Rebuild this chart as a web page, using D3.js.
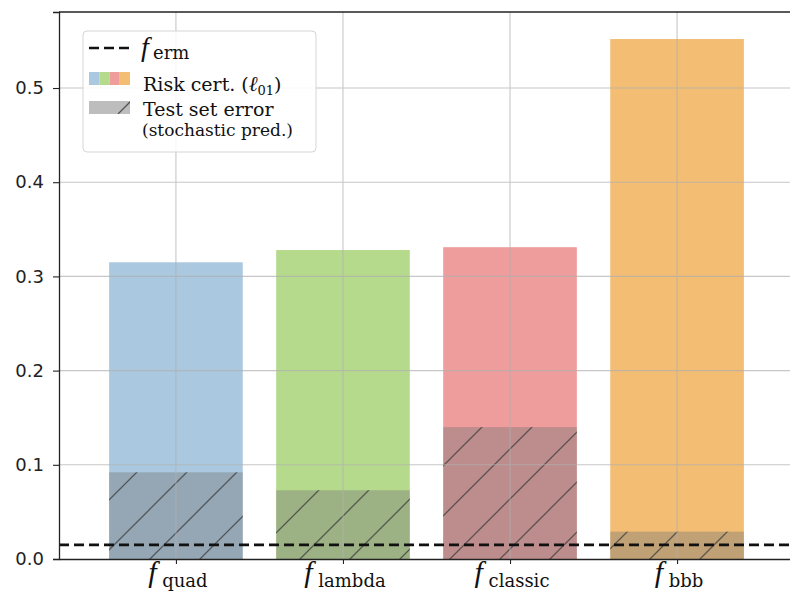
<!DOCTYPE html>
<html>
<head>
<meta charset="utf-8">
<script src="https://cdn.jsdelivr.net/npm/d3@7"></script>
<style>
  html, body { margin: 0; padding: 0; background: #fff; }
  svg { display: block; }
</style>
</head>
<body>
<svg id="chart" width="790" height="593"></svg>
<script>
// Bound values per predictor
const predictors = ["quad", "lambda", "classic", "bbb"];
const riskCert = [0.315, 0.328, 0.331, 0.552];
const testError = [0.092, 0.073, 0.140, 0.029];
const fermError = 0.015;
const barColors = ["#aac9e0", "#b6da8c", "#ee9c9c", "#f3bd73"];
const yTicks = [0.0, 0.1, 0.2, 0.3, 0.4, 0.5];

const roman = "DejaVu Serif, serif";
const italic = "Liberation Serif, serif";
const svg = d3.select("#chart");
const margin = { left: 59, top: 12, bottom: 34 };
const plotBottom = 593 - margin.bottom;
const plotRight = 794;

const x = d3.scaleLinear().domain([-0.7, predictors.length - 1 + 0.7]).range([margin.left, plotRight]);
const y = d3.scaleLinear().domain([0, 0.5807]).range([plotBottom, margin.top]);
const barW = x(0.8) - x(0);

// Diagonal hatch for the test-error overlay
const defs = svg.append("defs");
const hatch = defs.append("pattern")
  .attr("id", "hatch").attr("patternUnits", "userSpaceOnUse")
  .attr("width", 50).attr("height", 50)
  .attr("x", 0).attr("y", plotBottom % 50);
hatch.append("path")
  .attr("d", "M-5,55 L55,-5 M-30,30 L30,-30 M20,80 L80,20")
  .attr("stroke", "#3a3a3a").attr("stroke-opacity", 0.75).attr("stroke-width", 1.3);

const legHatch = defs.append("pattern")
  .attr("id", "legHatch").attr("patternUnits", "userSpaceOnUse")
  .attr("width", 41).attr("height", 40).attr("x", 89).attr("y", 74);
legHatch.append("path").attr("d", "M29,40 L43,26").attr("stroke", "#555").attr("stroke-width", 1.3);

const g = svg.append("g");

// Risk certificate bars
g.selectAll("rect.risk").data(predictors).join("rect")
  .attr("class", "risk")
  .attr("x", (d, i) => x(i) - barW / 2)
  .attr("width", barW)
  .attr("y", (d, i) => y(riskCert[i]))
  .attr("height", (d, i) => y(0) - y(riskCert[i]))
  .attr("fill", (d, i) => barColors[i]);

// Test set error (stochastic predictor)
g.selectAll("rect.test").data(predictors).join("rect")
  .attr("class", "test")
  .attr("x", (d, i) => x(i) - barW / 2)
  .attr("width", barW)
  .attr("y", (d, i) => y(testError[i]))
  .attr("height", (d, i) => y(0) - y(testError[i]))
  .attr("fill", "#7a7a7a").attr("fill-opacity", 0.42);
g.selectAll("rect.hatch").data(predictors).join("rect")
  .attr("class", "hatch")
  .attr("x", (d, i) => x(i) - barW / 2)
  .attr("width", barW)
  .attr("y", (d, i) => y(testError[i]))
  .attr("height", (d, i) => y(0) - y(testError[i]))
  .attr("fill", "url(#hatch)");

// Grid lines
const grid = svg.append("g").attr("stroke", "#b0b0b0").attr("stroke-width", 1.1).attr("opacity", 0.7);
grid.selectAll("line.h").data(yTicks.slice(1)).join("line")
  .attr("x1", margin.left).attr("x2", plotRight)
  .attr("y1", d => y(d)).attr("y2", d => y(d));
grid.selectAll("line.v").data(predictors).join("line")
  .attr("x1", (d, i) => x(i)).attr("x2", (d, i) => x(i))
  .attr("y1", margin.top).attr("y2", plotBottom);

// ERM reference line
svg.append("line")
  .attr("x1", margin.left).attr("x2", plotRight)
  .attr("y1", y(fermError)).attr("y2", y(fermError))
  .attr("stroke", "#111").attr("stroke-width", 2.6).attr("stroke-dasharray", "10,5");

// Axes
const yAxis = d3.axisLeft(y).tickValues(yTicks).tickFormat(d3.format(".1f")).tickSize(6).tickPadding(9);
const ya = svg.append("g").attr("transform", `translate(${margin.left},0)`).call(yAxis);
ya.select(".domain").attr("stroke", "#222").attr("stroke-width", 1.3);
ya.selectAll(".tick line").attr("stroke", "#222").attr("stroke-width", 1.1);
ya.selectAll(".tick text").attr("font-family", "DejaVu Sans").attr("font-size", 18).attr("fill", "#222");

const xAxis = d3.axisBottom(x).tickValues(d3.range(predictors.length)).tickFormat("").tickSize(5).tickSizeOuter(0);
const xa = svg.append("g").attr("transform", `translate(0,${plotBottom})`).call(xAxis);
xa.select(".domain").attr("stroke", "#222").attr("stroke-width", 1.3);
xa.selectAll(".tick line").attr("stroke", "#222").attr("stroke-width", 1.1);

// Category labels: italic f with roman subscript, centred as a group
predictors.forEach((p, i) => {
  const lab = svg.append("g");
  lab.append("text")
    .attr("x", 0).attr("y", plotBottom + 23)
    .attr("font-family", italic).attr("font-style", "italic").attr("font-size", 30)
    .attr("fill", "#111").text("f");
  const sub = lab.append("text")
    .attr("x", 14).attr("y", plotBottom + 28)
    .attr("font-family", roman).attr("font-size", 18)
    .attr("fill", "#111").text(p);
  const w = 14 + sub.node().getComputedTextLength();
  lab.attr("transform", `translate(${x(i) - w / 2 + 2},0)`);
});

// Top spine
svg.append("line").attr("x1", margin.left).attr("x2", plotRight)
  .attr("y1", margin.top).attr("y2", margin.top)
  .attr("stroke", "#222").attr("stroke-width", 1.3);

// Legend
const leg = svg.append("g");
leg.append("rect").attr("x", 83).attr("y", 31).attr("width", 233).attr("height", 121)
  .attr("rx", 4).attr("fill", "#fff").attr("fill-opacity", 0.85)
  .attr("stroke", "#d5d5d5").attr("stroke-width", 1);
leg.append("line").attr("x1", 89).attr("x2", 130).attr("y1", 48).attr("y2", 48)
  .attr("stroke", "#111").attr("stroke-width", 2.6).attr("stroke-dasharray", "10,5");
leg.append("text").attr("x", 141).attr("y", 56)
  .attr("font-family", italic).attr("font-style", "italic").attr("font-size", 28)
  .attr("fill", "#111").text("f");
leg.append("text").attr("x", 153).attr("y", 59)
  .attr("font-family", roman).attr("font-size", 18)
  .attr("fill", "#111").text("erm");

barColors.forEach((c, i) => {
  leg.append("rect").attr("x", 89 + i * 10.25).attr("y", 72).attr("width", 10.25).attr("height", 13).attr("fill", c);
});
const lt2 = leg.append("text").attr("x", 143).attr("y", 91)
  .attr("font-family", roman).attr("font-size", 19).attr("fill", "#111");
lt2.append("tspan").text("Risk cert. (");
lt2.append("tspan").attr("font-family", italic).attr("font-style", "italic").attr("font-size", 21).text("ℓ");
lt2.append("tspan").attr("font-size", 13).attr("dy", 4).text("01");
lt2.append("tspan").attr("dy", -4).text(")");

leg.append("rect").attr("x", 89).attr("y", 101).attr("width", 41).attr("height", 13)
  .attr("fill", "#bdbdbd");
leg.append("rect").attr("x", 89).attr("y", 101).attr("width", 41).attr("height", 13)
  .attr("fill", "url(#legHatch)");
leg.append("text").attr("x", 143).attr("y", 116)
  .attr("font-family", roman).attr("font-size", 19).attr("fill", "#111")
  .text("Test set error");
leg.append("text").attr("x", 142).attr("y", 136)
  .attr("font-family", roman).attr("font-size", 17).attr("fill", "#111")
  .text("(stochastic pred.)");
</script>
</body>
</html>
